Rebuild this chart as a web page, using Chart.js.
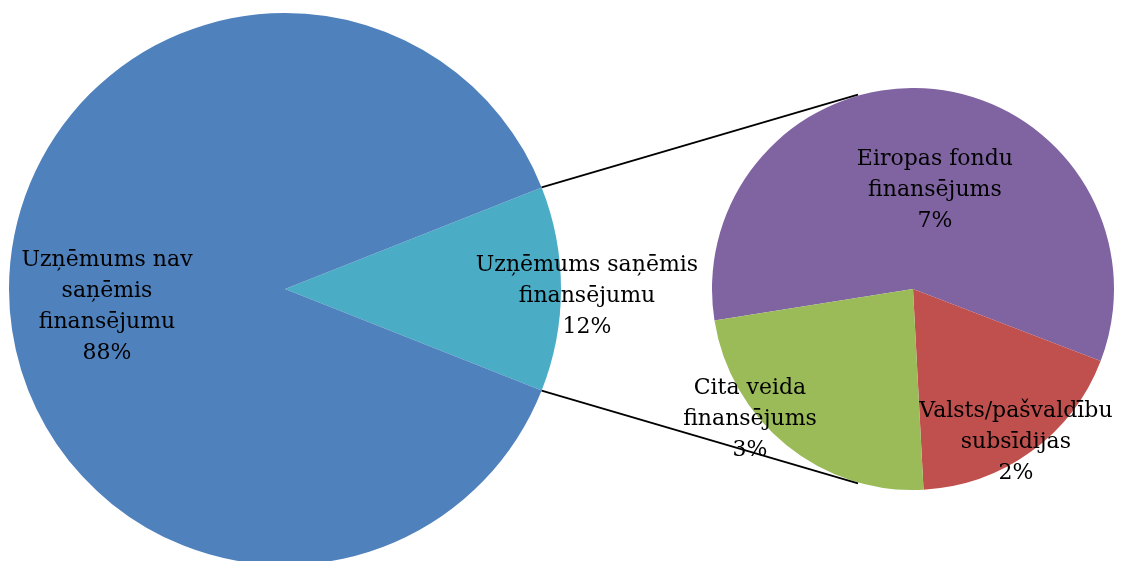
<!DOCTYPE html>
<html><head><meta charset="utf-8">
<script src="https://cdn.jsdelivr.net/npm/chart.js@4/dist/chart.umd.min.js"></script>
<style>
html,body{margin:0;padding:0;width:1132px;height:561px;overflow:hidden;background:#fff;}
canvas{position:absolute;}
</style></head>
<body>
<canvas id="main" width="552" height="552" style="left:9px;top:13px;width:552px;height:552px"></canvas>
<canvas id="sub" width="402" height="402" style="left:712px;top:88px;width:402px;height:402px"></canvas>
<canvas id="overlay" width="1132" height="561" style="left:0;top:0;width:1132px;height:561px"></canvas>
<script>
// Data
const mainLabels = [['Uzņēmums saņēmis','finansējumu'], ['Uzņēmums nav','saņēmis','finansējumu']];
const mainValues = [12, 88];
const mainColors = ['#4BACC6', '#4F81BD'];
const subLabels = [['Eiropas fondu','finansējums'], ['Valsts/pašvaldību','subsīdijas'], ['Cita veida','finansējums']];
const subValues = [7.0, 2.2, 2.8];
const subColors = ['#8064A2', '#C0504D', '#9BBB59'];

// Layout (label block centres as fractions of each pie's radius)
const mainLabelPos = [[1.094, 0.025], [-0.645, 0.065]];
const subLabelPos = [[0.109, -0.493], [0.512, 0.761], [-0.811, 0.647]];
const FONT = '22px "DejaVu Serif"';
const LINE_H = 31;

function pieOpts(radius, rotation) {
  return {
    responsive: false, animation: false, events: [],
    radius: radius, rotation: rotation,
    layout: {padding: 0},
    plugins: {legend: {display: false}, tooltip: {enabled: false}},
    elements: {arc: {borderWidth: 0, hoverOffset: 0, offset: 0}}
  };
}

const mainChart = new Chart(document.getElementById('main'), {
  type: 'pie',
  data: {labels: mainLabels, datasets: [{data: mainValues, backgroundColor: mainColors, borderWidth: 0, hoverOffset: 0}]},
  options: pieOpts(276, 90 - mainValues[0] / 100 * 180)
});
const subChart = new Chart(document.getElementById('sub'), {
  type: 'pie',
  data: {labels: subLabels, datasets: [{data: subValues, backgroundColor: subColors, borderWidth: 0, hoverOffset: 0}]},
  options: pieOpts(201, 261)
});

function drawOverlay() {
  const ctx = document.getElementById('overlay').getContext('2d');
  const mOff = {x: 9, y: 13}, sOff = {x: 712, y: 88};
  const mArcs = mainChart.getDatasetMeta(0).data;
  const sArcs = subChart.getDatasetMeta(0).data;
  const t = mArcs[0];
  const mcx = t.x + mOff.x, mcy = t.y + mOff.y, mR = t.outerRadius;
  const s0 = sArcs[0];
  const scx = s0.x + sOff.x, scy = s0.y + sOff.y, sR = s0.outerRadius;
  // connector lines
  ctx.strokeStyle = '#000'; ctx.lineWidth = 1.8;
  const connAngle = 105.8 * Math.PI / 180;
  [[t.startAngle, -connAngle], [t.endAngle, connAngle]].forEach(([a, b]) => {
    ctx.beginPath();
    ctx.moveTo(mcx + mR * Math.cos(a), mcy + mR * Math.sin(a));
    ctx.lineTo(scx + (sR + 1) * Math.cos(b), scy + (sR + 1) * Math.sin(b));
    ctx.stroke();
  });
  // labels
  ctx.font = FONT; ctx.fillStyle = '#000'; ctx.textAlign = 'center'; ctx.textBaseline = 'middle';
  function block(lines, cx, cy) {
    const y0 = cy - (lines.length - 1) * LINE_H / 2;
    lines.forEach((l, i) => ctx.fillText(l, cx, y0 + i * LINE_H));
  }
  mainLabels.forEach((lab, i) => {
    const p = mainLabelPos[i];
    block(lab.concat([Math.round(mainValues[i]) + '%']), mcx + p[0] * mR, mcy + p[1] * mR);
  });
  subLabels.forEach((lab, i) => {
    const p = subLabelPos[i];
    block(lab.concat([Math.round(subValues[i]) + '%']), scx + p[0] * sR, scy + p[1] * sR);
  });
}
drawOverlay();
</script>
</body></html>
